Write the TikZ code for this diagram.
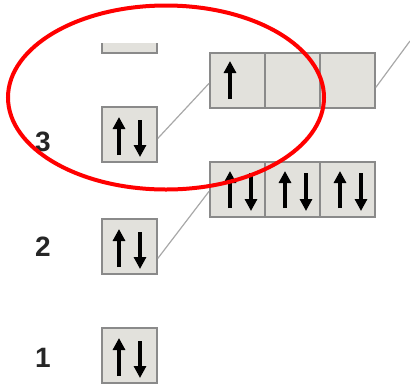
\documentclass[tikz,border=0pt]{standalone}
\usepackage{fontspec}
\setmainfont{Liberation Sans}
\usetikzlibrary{arrows.meta}
\definecolor{boxfill}{HTML}{E2E1DC}
\definecolor{boxline}{HTML}{8A8A8A}
\definecolor{linkline}{HTML}{A8A8A8}
\begin{document}
\begin{tikzpicture}[x=1pt,y=-1pt,
  orb/.style={draw=boxline,fill=boxfill,line width=1.8pt,minimum width=55pt,minimum height=55pt,inner sep=0pt,anchor=north west},
  spin/.style={line width=3.2pt,-{Triangle[length=12pt,width=12pt]}},
  lvl/.style={font=\fontsize{28}{30}\selectfont\bfseries,text=black!85},
  link/.style={draw=linkline,line width=1.2pt}]
\useasboundingbox (0,0) rectangle (410,384);
% top partial box
\begin{scope}
\clip (0,43) rectangle (410,384);
\node[orb] (top) at (101,-3) {};
\end{scope}
% 3s
\node[orb] (s3) at (101,106) {};
\draw[spin] (119,155) -- (119,117);
\draw[spin] (140,120) -- (140,157);
% 3p
\node[orb] (p3a) at (209,52) {};
\node[orb] (p3b) at (264,52) {};
\node[orb] (p3c) at (319,52) {};
\draw[spin] (230,99) -- (230,61);
% 2p
\node[orb] (p2a) at (209,161) {};
\node[orb] (p2b) at (264,161) {};
\node[orb] (p2c) at (319,161) {};
\foreach \x in {209,264,319}{
  \draw[spin] (\x+21,208) -- (\x+21,171);
  \draw[spin] (\x+42,173) -- (\x+42,211);
}
% 2s
\node[orb] (s2) at (101,218) {};
\draw[spin] (119,267) -- (119,229);
\draw[spin] (140,232) -- (140,269);
% 1s
\node[orb] (s1) at (101,327) {};
\draw[spin] (119,376) -- (119,338);
\draw[spin] (140,341) -- (140,378);
% links
\coordinate (off) at (410,41);
\draw[link] ([yshift=-4pt]s3.east) -- ([yshift=-3pt]p3a.west);
\draw[link] ([yshift=-12pt]s2.east) -- ([yshift=-2pt]p2a.west);
\draw[link] ([yshift=-7pt]p3c.east) -- (off);
% labels
\node[lvl] (n3) at (43,142) {3};
\node[lvl] (n2) at (43,247) {2};
\node[lvl] (n1) at (43,358) {1};
% red ellipse
\draw[red,line width=4pt] (166,97.5) ellipse [x radius=158pt,y radius=92pt];
\end{tikzpicture}
\end{document}
